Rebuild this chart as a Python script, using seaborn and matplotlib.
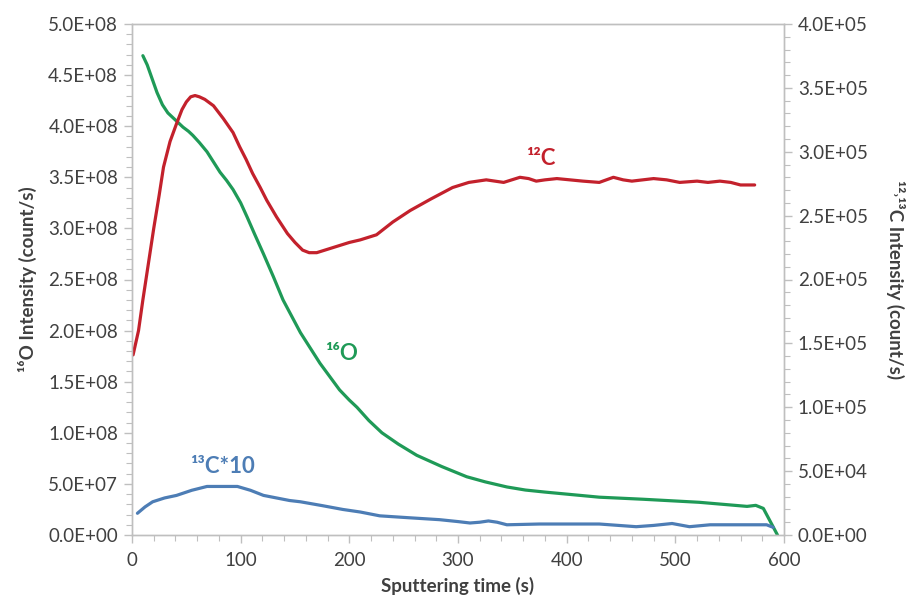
import numpy as np
import pandas as pd
import matplotlib
matplotlib.use("Agg")
import matplotlib.pyplot as plt
from matplotlib.ticker import MultipleLocator, FuncFormatter
import seaborn as sns

# ---- data ----
o16_time = [10, 14, 18, 23, 28, 33, 38, 43, 47, 52, 56, 62, 69, 75, 81, 87, 93, 100, 106,
            113, 121, 130, 139, 147, 155, 164, 173, 182, 191, 200, 207, 218, 230, 245,
            262, 285, 308, 325, 345, 362, 380, 405, 430, 470, 522, 566, 574, 581, 587, 594]
o16_vals = [469e6, 460e6, 448e6, 433e6, 421e6, 413e6, 408e6, 403e6, 399e6, 395e6, 391e6,
            384e6, 375e6, 365e6, 355e6, 347e6, 338e6, 325e6, 311e6, 294e6, 275e6, 253e6,
            230e6, 214e6, 198e6, 183e6, 168e6, 155e6, 142e6, 132e6, 125e6, 112e6, 100e6,
            89e6, 78e6, 67e6, 57e6, 52e6, 47e6, 44e6, 42e6, 39.5e6, 37e6, 35e6, 32e6,
            28e6, 29e6, 26e6, 14e6, 0]

c12_time = [1, 6, 10, 15, 20, 25, 29, 35, 41, 46, 50, 54, 58, 62, 67, 75, 84, 93, 99, 105,
            111, 118, 124, 133, 143, 150, 157, 163, 170, 185, 200, 210, 225, 240, 256,
            275, 295, 310, 326, 342, 357, 365, 372, 380, 391, 403, 415, 430, 443, 452,
            460, 470, 480, 492, 504, 520, 530, 541, 551, 560, 573]
c12_vals = [141e3, 160e3, 184e3, 212e3, 240e3, 266e3, 288e3, 308e3, 322e3, 333e3, 339e3,
            343e3, 344e3, 343e3, 341e3, 336e3, 326e3, 315e3, 304e3, 294e3, 283e3, 272e3,
            262e3, 249e3, 236e3, 229e3, 223e3, 221e3, 221e3, 225e3, 229e3, 231e3, 235e3,
            245e3, 254e3, 263e3, 272e3, 276e3, 278e3, 276e3, 280e3, 279e3, 277e3, 278e3,
            279e3, 278e3, 277e3, 276e3, 280e3, 278e3, 277e3, 278e3, 279e3, 278e3, 276e3,
            277e3, 276e3, 277e3, 276e3, 274e3, 274e3]

c13_time = [5, 12, 19, 30, 41, 55, 69, 83, 97, 109, 121, 133, 145, 155, 175, 194, 210,
            228, 255, 283, 300, 311, 320, 328, 336, 345, 375, 430, 464, 480, 497, 513,
            532, 560, 584, 590]
c13_vals = [17e3, 22e3, 26e3, 29e3, 31e3, 35e3, 38e3, 38e3, 38e3, 35e3, 31e3, 29e3, 27e3,
            26e3, 23e3, 20e3, 18e3, 15e3, 13.5e3, 12e3, 10.5e3, 9.4e3, 10e3, 11e3, 10e3,
            8e3, 8.6e3, 8.6e3, 6.5e3, 7.5e3, 9e3, 6.5e3, 8e3, 8e3, 8e3, 6e3]

x_ticks = [0, 100, 200, 300, 400, 500, 600]
left_ticks = [0, 0.5e8, 1e8, 1.5e8, 2e8, 2.5e8, 3e8, 3.5e8, 4e8, 4.5e8, 5e8]
right_ticks = [0, 0.5e5, 1e5, 1.5e5, 2e5, 2.5e5, 3e5, 3.5e5, 4e5]

GREEN = "#1f9a57"
RED = "#c3212c"
BLUE = "#4d7db5"
SPINE = "#bfbfbf"
TXT = "#404040"

sns.set_style("white")
plt.rcParams['font.family'] = ['Lato', 'DejaVu Sans']

fig = plt.figure(figsize=(9.06, 6.04), dpi=100)
ax = fig.add_axes([132/906, 1-535/604, (784-132)/906, (535-24)/604])
ax2 = ax.twinx()

df_o = pd.DataFrame({"t": o16_time, "v": o16_vals})
df_c12 = pd.DataFrame({"t": c12_time, "v": c12_vals})
df_c13 = pd.DataFrame({"t": c13_time, "v": c13_vals})

sns.lineplot(data=df_o, x="t", y="v", ax=ax, color=GREEN, lw=2.3, sort=False)
sns.lineplot(data=df_c12, x="t", y="v", ax=ax2, color=RED, lw=2.3, sort=False)
sns.lineplot(data=df_c13, x="t", y="v", ax=ax2, color=BLUE, lw=2.3, sort=False)

ax.set_xlim(0, 600)
ax.set_ylim(0, 5e8)
ax2.set_ylim(0, 4e5)

fmt = FuncFormatter(lambda v, p: "%.1E" % v)
ax.set_xticks(x_ticks)
ax.set_yticks(left_ticks)
ax2.set_yticks(right_ticks)
ax.yaxis.set_major_formatter(fmt)
ax2.yaxis.set_major_formatter(fmt)
ax.xaxis.set_minor_locator(MultipleLocator(20))
ax.yaxis.set_minor_locator(MultipleLocator(1e7))
ax2.yaxis.set_minor_locator(MultipleLocator(1e4))

for a in (ax, ax2):
    for s in a.spines.values():
        s.set_color(SPINE)
        s.set_linewidth(1.0)
    a.tick_params(which="both", direction="out", color=SPINE, labelcolor=TXT,
                  labelsize=13.5)
    a.tick_params(which="major", length=6, width=1)
    a.tick_params(which="minor", length=4, width=0.8)
ax.tick_params(axis="x", which="both", bottom=True, pad=6)
ax.tick_params(axis="y", which="both", left=True, pad=4)
ax2.tick_params(axis="y", which="both", right=True, pad=4)

ax.set_xlabel("Sputtering time (s)", fontsize=13.5, fontweight="bold", color=TXT, labelpad=6)
ax.set_ylabel("¹⁶O Intensity (count/s)", fontsize=13.5, fontweight="bold", color=TXT,
              labelpad=8)
ax2.set_ylabel("¹²˒¹³C Intensity (count/s)", fontsize=13.5, fontweight="bold", color=TXT,
               rotation=270, labelpad=27)

ax.text(193, 1.78e8, "¹⁶O", color=GREEN, fontsize=16, fontweight="bold",
        ha="center", va="center")
ax2.text(376, 2.95e5, "¹²C", color=RED, fontsize=16, fontweight="bold",
         ha="center", va="center")
ax2.text(83, 5.4e4, "¹³C*10", color=BLUE, fontsize=16, fontweight="bold",
         ha="center", va="center")

fig.savefig("out.png", dpi=100)
